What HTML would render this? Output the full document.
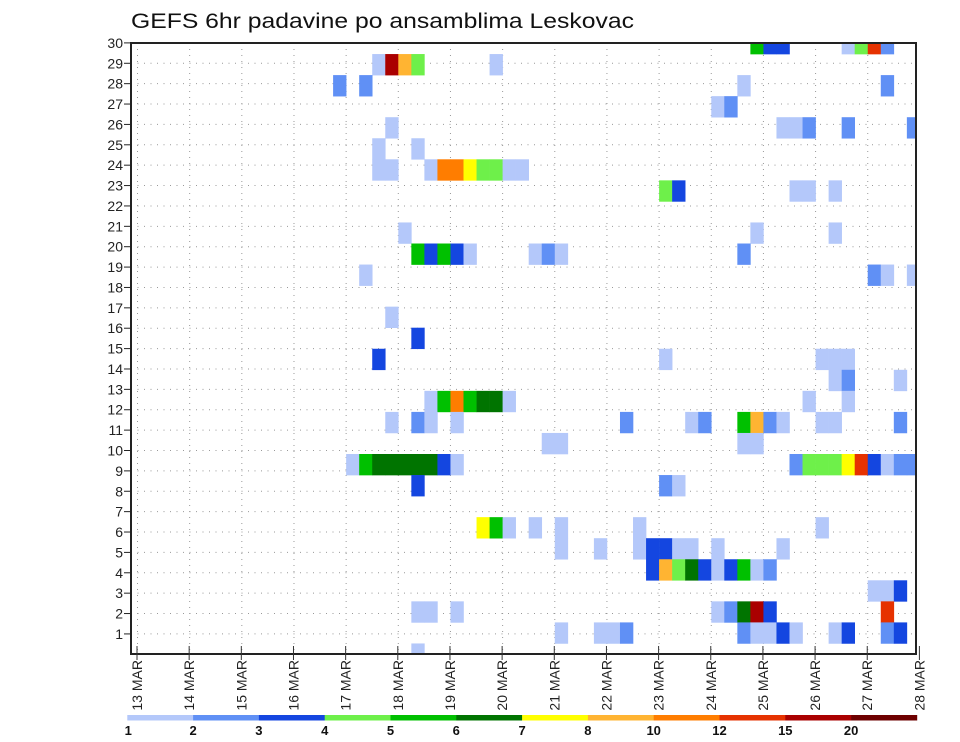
<!DOCTYPE html>
<html><head><meta charset="utf-8"><style>
html,body{margin:0;padding:0;background:#fff;}
svg{display:block;font-family:"Liberation Sans",sans-serif;}
</style></head><body>
<svg id="chart" width="960" height="742" viewBox="0 0 960 742" xmlns="http://www.w3.org/2000/svg">
<defs><clipPath id="plotclip"><rect x="131" y="43" width="785" height="611"/></clipPath></defs>
<text x="131" y="28" font-size="21" textLength="503" lengthAdjust="spacingAndGlyphs" fill="#111">GEFS 6hr padavine po ansamblima Leskovac</text>
<g id="grid"></g>
<g id="cells" clip-path="url(#plotclip)"></g>
<rect x="131" y="43" width="785" height="611" fill="none" stroke="#222" stroke-width="2"/>
<g id="yaxis"></g>
<g id="xaxis"></g>
<g id="legend"></g>
</svg>
<script>
// data
const dayLabels = ["13 MAR","14 MAR","15 MAR","16 MAR","17 MAR","18 MAR","19 MAR","20 MAR","21 MAR","22 MAR","23 MAR","24 MAR","25 MAR","26 MAR","27 MAR","28 MAR"];
const memberTicks = [1,2,3,4,5,6,7,8,9,10,11,12,13,14,15,16,17,18,19,20,21,22,23,24,25,26,27,28,29,30];
const levelBounds = [1,2,3,4,5,6,7,8,10,12,15,20];
const levelColors = ["#b4c8fa","#6090f5","#1446e0","#6ef04a","#00c000","#007400","#ffff00","#ffb432","#ff7d00","#e63200","#aa0000","#6e0000"];
// cells: 6h step index (from 13 MAR 00z), ensemble member row, precipitation (mm)
const cellStep = [
47,48,49,54,55,56,57,
18,19,20,21,27,
15,17,46,57,
44,45,
19,49,50,51,54,59,
18,21,
18,19,22,23,24,25,26,27,28,29,
40,41,50,51,53,
20,47,53,
21,22,23,24,25,30,31,32,46,
17,56,57,59,
19,
21,
18,40,52,53,54,
53,54,58,
22,23,24,25,26,27,28,51,54,
19,21,22,24,37,42,43,46,47,48,49,52,53,58,
31,32,46,47,
16,17,18,19,20,21,22,23,24,50,51,52,53,54,55,56,57,58,59,
21,40,41,
26,27,28,30,32,38,52,
32,35,38,39,40,41,42,44,49,
39,40,41,42,43,44,45,46,47,48,
56,57,58,
21,22,24,44,45,46,47,48,57,
32,35,36,37,46,47,48,49,50,53,54,57,58,
21];
const cellMember = [
29,29,29,29,29,29,29,
28,28,28,28,28,
27,27,27,27,
26,26,
25,25,25,25,25,25,
24,24,
23,23,23,23,23,23,23,23,23,23,
22,22,22,22,22,
20,20,20,
19,19,19,19,19,19,19,19,19,
18,18,18,18,
16,
15,
14,14,14,14,14,
13,13,13,
12,12,12,12,12,12,12,12,12,
11,11,11,11,11,11,11,11,11,11,11,11,11,11,
10,10,10,10,
9,9,9,9,9,9,9,9,9,9,9,9,9,9,9,9,9,9,9,
8,8,8,
6,6,6,6,6,6,6,
5,5,5,5,5,5,5,5,5,
4,4,4,4,4,4,4,4,4,4,
3,3,3,
2,2,2,2,2,2,2,2,2,
1,1,1,1,1,1,1,1,1,1,1,1,1,
0];
const cellValue = [
5.5,3.5,3.5,1.5,4.5,13.5,2.5,
1.5,17.5,9,4.5,1.5,
2.5,2.5,1.5,2.5,
1.5,2.5,
1.5,1.5,1.5,2.5,2.5,2.5,
1.5,1.5,
1.5,1.5,1.5,11,11,7.5,4.5,4.5,1.5,1.5,
4.5,3.5,1.5,1.5,1.5,
1.5,1.5,1.5,
5.5,3.5,5.5,3.5,1.5,1.5,2.5,1.5,2.5,
1.5,2.5,1.5,1.5,
1.5,
3.5,
3.5,1.5,1.5,1.5,1.5,
1.5,2.5,1.5,
1.5,5.5,11,5.5,6.5,6.5,1.5,1.5,1.5,
1.5,2.5,1.5,1.5,2.5,1.5,2.5,5.5,9,2.5,1.5,1.5,1.5,2.5,
1.5,1.5,1.5,1.5,
1.5,5.5,6.5,6.5,6.5,6.5,6.5,3.5,1.5,2.5,4.5,4.5,4.5,7.5,13.5,3.5,1.5,2.5,2.5,
3.5,2.5,1.5,
7.5,5.5,1.5,1.5,1.5,1.5,1.5,
1.5,1.5,1.5,3.5,3.5,1.5,1.5,1.5,1.5,
3.5,9,4.5,6.5,3.5,1.5,3.5,5.5,1.5,2.5,
1.5,1.5,3.5,
1.5,1.5,1.5,1.5,2.5,6.5,17.5,3.5,13.5,
1.5,1.5,1.5,2.5,2.5,1.5,1.5,3.5,1.5,1.5,3.5,2.5,3.5,
1.5];

const NS="http://www.w3.org/2000/svg";
function mk(tag, attrs, parent){const e=document.createElementNS(NS,tag);for(const k in attrs)e.setAttribute(k,attrs[k]);parent.appendChild(e);return e;}
// axis functions
const X0=137.5, STEP=13.04;
function xStep(t){return X0+STEP*t;}
function xDay(d){return xStep(d*4);}
function yTick(v){return 654.3-20.38*v;}
function cellTop(m){return 643.45-21.05*m;}
const CELL_H=21.05;
function colorFor(v){let idx=0;for(let i=0;i<levelBounds.length;i++){if(v>=levelBounds[i])idx=i;}return levelColors[idx];}

const grid=document.getElementById('grid');
for(let d=0; d<dayLabels.length; d++){
  const x=xDay(d);
  if(x>131 && x<916){
    const l=mk('line',{x1:x,y1:43,x2:x,y2:654,stroke:'#999','stroke-width':1,'stroke-dasharray':'1 5'},grid);
    
    
  }
}
for(const v of memberTicks){
  if(v>=30) continue;
  const y=yTick(v);
  const l=mk('line',{x1:131,y1:y,x2:916,y2:y,stroke:'#999','stroke-width':1,'stroke-dasharray':'1 5.5'},grid);
  
  
}

const cells=document.getElementById('cells');
for(let i=0;i<cellStep.length;i++){
  const r=mk('rect',{x:xStep(cellStep[i]),y:cellTop(cellMember[i]),width:STEP+0.3,height:CELL_H+0.3,fill:colorFor(cellValue[i])},cells);
  
  
}

const yax=document.getElementById('yaxis');
for(const v of memberTicks){
  const y=yTick(v);
  const t=mk('line',{x1:124,y1:y,x2:131,y2:y,stroke:'#222','stroke-width':1},yax);
  
  
  const tx=mk('text',{x:123,y:y+5,'font-size':14,'text-anchor':'end',fill:'#222'},yax);
  tx.textContent=String(v);
  
  
}

const xax=document.getElementById('xaxis');
for(let d=0; d<dayLabels.length; d++){
  const x=xDay(d)-0.5;
  const t=mk('line',{x1:x,y1:646,x2:x,y2:660,stroke:'#333','stroke-width':1},xax);
  
  
  const tx=mk('text',{x:0,y:0,'font-size':14,'text-anchor':'end',fill:'#222',transform:`translate(${x+5},660) rotate(-90)`},xax);
  tx.textContent=dayLabels[d];
  
  
}

const leg=document.getElementById('legend');
const LX=127.3, LW=65.8;
for(let i=0;i<levelColors.length;i++){
  const r=mk('rect',{x:LX+LW*i,y:715,width:LW+0.3,height:5.5,fill:levelColors[i]},leg);
  
  
  const tx=mk('text',{x:LX+LW*i+(i===0?1:0),y:735,'font-size':13,'font-weight':'bold','text-anchor':'middle',fill:'#111'},leg);
  tx.textContent=String(levelBounds[i]);
  
  
}
</script>
</body></html>
